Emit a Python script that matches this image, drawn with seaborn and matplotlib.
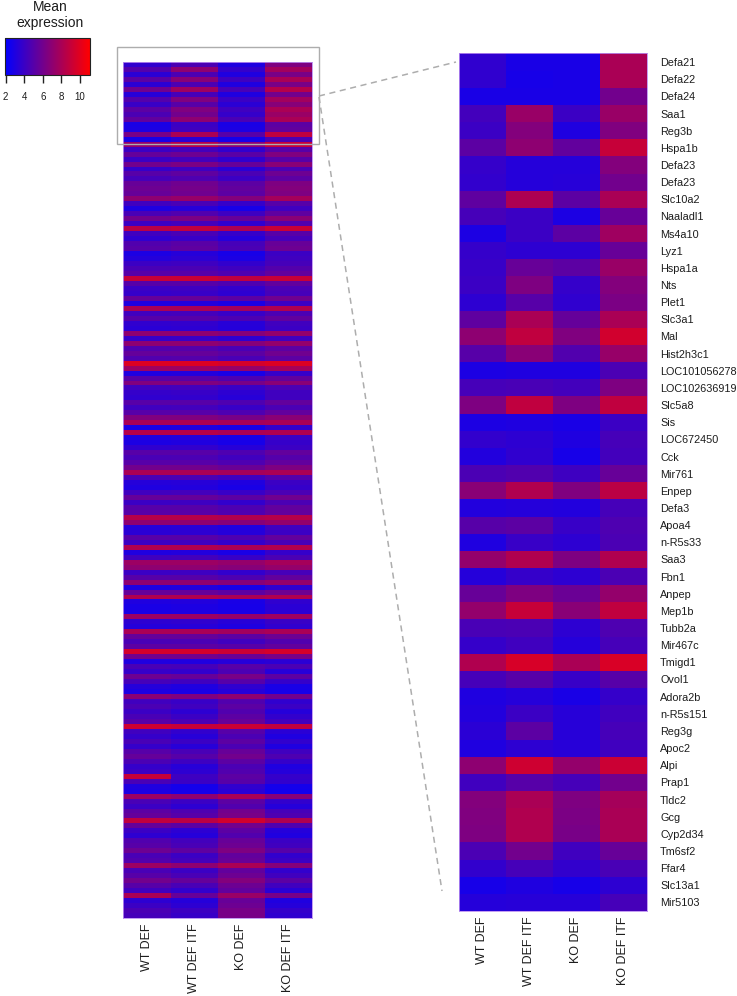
"""
Mean expression heatmap: all genes on the left, top 50 zoomed in on the right.
"""

import matplotlib
matplotlib.use("Agg")
import matplotlib.pyplot as plt
import pandas as pd
import seaborn as sns
from matplotlib.colors import LinearSegmentedColormap
from matplotlib.lines import Line2D
from matplotlib.patches import Rectangle

# ---------------------------------------------------------------------------
# Data
# ---------------------------------------------------------------------------
CONDITIONS = ["WT DEF", "WT DEF ITF", "KO DEF", "KO DEF ITF"]

GENES = [
    "Defa21", "Defa22", "Defa24", "Saa1", "Reg3b", "Hspa1b", "Defa23", "Defa23", "Slc10a2", "Naaladl1",
    "Ms4a10", "Lyz1", "Hspa1a", "Nts", "Plet1", "Slc3a1", "Mal", "Hist2h3c1", "LOC101056278", "LOC102636919",
    "Slc5a8", "Sis", "LOC672450", "Cck", "Mir761", "Enpep", "Defa3", "Apoa4", "n-R5s33", "Saa3",
    "Fbn1", "Anpep", "Mep1b", "Tubb2a", "Mir467c", "Tmigd1", "Ovol1", "Adora2b", "n-R5s151", "Reg3g",
    "Apoc2", "Alpi", "Prap1", "Tldc2", "Gcg", "Cyp2d34", "Tm6sf2", "Ffar4", "Slc13a1", "Mir5103",
]

# zoomed panel, one list per condition
TOP_WT = [
    3.6, 3.6, 2.8, 4.3, 4.0, 5.2, 3.8, 3.7, 5.3, 4.4,
    2.9, 3.8, 3.9, 4.0, 3.5, 5.3, 7.0, 5.0, 2.9, 4.4,
    6.4, 2.9, 3.7, 3.1, 4.6, 6.8, 3.1, 5.0, 3.0, 7.2,
    3.2, 5.6, 7.2, 4.5, 3.8, 8.2, 4.4, 3.0, 3.1, 3.4,
    3.0, 7.0, 4.2, 6.6, 6.5, 6.4, 4.6, 3.7, 2.7, 3.2,
]
TOP_WT_ITF = [
    2.8, 2.7, 2.8, 7.4, 6.6, 7.0, 3.2, 3.2, 8.1, 4.0,
    4.0, 3.5, 5.6, 6.4, 5.0, 8.0, 8.8, 6.8, 3.0, 4.5,
    8.8, 3.0, 3.5, 3.6, 4.8, 8.2, 3.2, 5.2, 3.9, 8.2,
    3.8, 6.4, 9.0, 4.6, 4.2, 9.6, 5.0, 3.2, 4.0, 5.2,
    3.5, 9.3, 5.0, 8.0, 8.2, 8.2, 6.0, 4.4, 3.0, 3.3,
]
TOP_KO = [
    2.8, 2.8, 2.8, 4.0, 3.0, 5.4, 3.2, 3.3, 5.2, 2.9,
    5.2, 3.5, 5.2, 3.8, 3.6, 5.5, 6.5, 4.8, 3.0, 4.3,
    6.4, 2.8, 3.0, 2.7, 4.1, 6.5, 3.1, 3.9, 3.5, 6.4,
    3.5, 5.7, 6.8, 3.5, 3.2, 8.0, 3.9, 2.8, 3.3, 3.3,
    3.3, 7.2, 4.4, 6.4, 6.3, 6.2, 4.2, 3.7, 2.7, 3.3,
]
TOP_KO_ITF = [
    8.0, 8.0, 6.0, 7.4, 6.5, 9.0, 6.6, 6.0, 8.0, 5.6,
    7.6, 5.6, 7.4, 6.6, 6.3, 8.0, 9.4, 7.3, 4.6, 6.4,
    8.8, 4.0, 4.4, 4.3, 5.6, 8.6, 4.4, 4.7, 4.6, 8.2,
    4.6, 7.2, 8.8, 4.7, 4.4, 9.7, 5.0, 3.8, 4.2, 4.4,
    4.2, 9.2, 6.0, 7.8, 8.0, 8.0, 5.6, 4.5, 3.5, 4.4,
]

# overview panel, rows read as bands of about 5 px
ALL_WT = [
    3.6, 4.9, 3.4, 5.2, 3.4, 5.9, 3.2, 4.9, 3.9, 5.2,
    4.6, 5.4, 2.8, 2.9, 6.2, 2.7, 7.2, 4.0, 5.5, 4.0,
    6.0, 3.8, 5.0, 4.4, 5.6, 5.8, 5.6, 7.0, 4.2, 3.0,
    4.5, 6.0, 4.0, 8.5, 4.2, 3.6, 4.8, 5.0, 2.9, 3.2,
    4.0, 4.5, 5.0, 9.0, 5.0, 4.0, 3.8, 5.5, 3.0, 8.0,
    4.2, 5.0, 3.6, 3.4, 7.0, 3.8, 7.0, 4.8, 5.5, 4.8,
    9.8, 7.5, 3.0, 5.0, 6.5, 4.2, 3.8, 3.6, 5.0, 4.2,
    5.0, 6.5, 8.0, 2.9, 8.4, 3.0, 2.9, 3.6, 5.0, 4.5,
    5.0, 6.0, 8.0, 4.5, 3.2, 3.0, 4.2, 5.5, 4.0, 5.0,
    5.0, 8.4, 7.0, 3.2, 3.4, 5.0, 4.0, 8.2, 3.0, 4.2,
    7.5, 7.0, 4.0, 5.0, 7.0, 3.0, 5.5, 8.2, 3.0, 2.8,
    2.8, 7.5, 3.5, 3.2, 8.0, 5.5, 4.5, 5.2, 9.5, 6.0,
    3.0, 4.5, 3.8, 5.8, 4.4, 3.2, 2.9, 6.8, 4.2, 4.6,
    4.0, 4.5, 5.0, 9.3, 4.2, 3.8, 4.5, 3.8, 5.0, 5.5,
    4.6, 3.8, 4.0, 9.0, 4.5, 3.0, 2.9, 7.5, 4.5, 4.0,
    5.2, 5.5, 8.8, 5.5, 4.0, 3.5, 4.8, 5.0, 5.8, 4.5,
    4.8, 7.5, 4.5, 5.0, 6.0, 5.0, 4.2, 8.0, 3.5, 4.0, 4.6, 4.4,
]
ALL_WT_ITF = [
    4.6, 7.0, 4.6, 6.8, 4.6, 7.6, 4.4, 6.5, 5.0, 6.5,
    6.0, 7.0, 4.0, 4.2, 8.0, 3.4, 8.4, 4.3, 5.8, 4.3,
    6.3, 4.1, 5.3, 4.7, 5.9, 6.1, 5.9, 7.3, 4.5, 3.3,
    4.8, 6.3, 4.3, 8.8, 4.5, 3.9, 5.1, 5.3, 3.2, 3.5,
    4.1, 4.6, 5.0, 9.1, 5.0, 4.1, 3.9, 5.6, 3.1, 8.0,
    4.3, 5.0, 3.7, 3.5, 7.0, 3.9, 7.0, 4.9, 5.5, 4.9,
    9.8, 7.5, 3.1, 5.0, 6.5, 4.3, 3.9, 3.7, 5.0, 4.3,
    5.0, 6.5, 8.0, 3.0, 8.4, 3.1, 3.0, 3.7, 5.0, 4.6,
    5.0, 6.0, 8.0, 4.6, 3.3, 3.1, 4.3, 5.5, 4.1, 5.0,
    5.0, 8.4, 7.0, 3.3, 3.5, 5.0, 4.1, 8.2, 3.1, 4.3,
    7.5, 7.0, 4.1, 5.0, 7.0, 3.1, 5.5, 8.2, 3.1, 2.9,
    2.9, 7.5, 3.6, 3.3, 8.0, 5.5, 4.6, 5.2, 9.5, 6.0,
    3.0, 4.4, 3.7, 5.6, 4.2, 3.0, 2.8, 6.5, 3.9, 4.2,
    3.5, 4.0, 4.5, 9.0, 3.7, 3.3, 4.0, 3.3, 4.5, 5.0,
    4.1, 3.3, 3.5, 4.1, 4.0, 2.6, 2.6, 7.0, 4.0, 3.5,
    4.7, 5.0, 8.6, 5.2, 3.5, 3.2, 4.3, 4.5, 5.3, 4.0,
    4.3, 7.0, 4.0, 4.5, 5.5, 4.5, 3.7, 5.6, 3.2, 3.5, 4.1, 3.9,
]
ALL_KO = [
    3.0, 3.8, 3.0, 4.2, 3.0, 4.5, 3.0, 4.0, 3.4, 4.2,
    3.8, 4.6, 2.8, 2.9, 5.0, 2.6, 6.8, 3.6, 5.1, 3.6,
    5.6, 3.4, 4.6, 4.0, 5.2, 5.4, 5.2, 6.6, 3.8, 2.7,
    4.1, 5.6, 3.6, 8.1, 3.8, 3.2, 4.4, 4.6, 2.7, 2.9,
    3.7, 4.2, 4.7, 8.7, 4.7, 3.7, 3.5, 5.2, 2.8, 7.7,
    3.9, 4.7, 3.3, 3.2, 6.7, 3.5, 6.7, 4.5, 5.2, 4.5,
    9.5, 7.2, 2.8, 4.7, 6.2, 3.9, 3.5, 3.3, 4.7, 3.9,
    4.7, 6.2, 7.8, 2.7, 8.1, 2.8, 2.7, 3.3, 4.7, 4.2,
    4.7, 5.7, 7.8, 4.2, 3.0, 2.8, 3.9, 5.2, 3.7, 4.7,
    4.7, 8.2, 6.7, 3.0, 3.2, 4.7, 3.7, 8.0, 2.8, 3.9,
    7.2, 6.7, 3.7, 4.7, 6.7, 2.8, 5.2, 8.0, 2.8, 2.7,
    2.7, 7.2, 3.3, 3.0, 7.7, 5.2, 4.2, 5.0, 9.2, 5.7,
    3.2, 5.0, 4.6, 6.2, 5.0, 3.6, 3.2, 7.0, 4.8, 5.2,
    4.8, 5.2, 5.6, 9.2, 5.0, 4.6, 5.2, 4.6, 5.6, 6.0,
    5.2, 4.6, 4.8, 5.2, 5.0, 3.6, 3.4, 8.0, 5.2, 4.8,
    6.0, 6.2, 9.4, 6.0, 5.2, 4.8, 5.6, 5.8, 6.4, 5.4,
    5.6, 8.0, 5.4, 5.8, 6.6, 5.8, 5.4, 7.4, 5.6, 5.8, 6.2, 6.2,
]
ALL_KO_ITF = [
    6.4, 7.7, 6.2, 8.0, 6.2, 8.4, 6.0, 7.7, 6.7, 8.0,
    7.4, 8.0, 5.2, 5.4, 8.8, 4.6, 9.0, 5.0, 6.5, 5.0,
    6.8, 4.6, 5.8, 5.2, 6.4, 6.6, 6.4, 7.8, 5.0, 4.2,
    5.3, 6.8, 4.8, 9.1, 5.0, 4.4, 5.6, 5.8, 4.0, 4.2,
    4.4, 4.9, 5.4, 9.0, 5.4, 4.6, 4.4, 5.9, 4.0, 8.2,
    4.6, 5.4, 4.2, 4.0, 7.2, 4.2, 7.2, 5.2, 5.9, 5.2,
    9.8, 7.8, 3.8, 5.4, 6.8, 4.6, 4.2, 4.2, 5.4, 4.6,
    5.4, 6.8, 8.0, 3.8, 8.2, 4.0, 3.8, 4.0, 5.4, 4.9,
    5.4, 6.4, 8.0, 4.9, 4.0, 3.8, 4.6, 5.9, 4.6, 5.4,
    5.4, 8.4, 7.2, 4.2, 4.0, 5.4, 4.4, 8.2, 3.8, 4.6,
    7.8, 7.2, 4.4, 5.4, 7.2, 3.6, 5.8, 8.2, 3.6, 3.4,
    3.4, 7.6, 3.9, 3.6, 8.0, 5.8, 4.8, 5.4, 9.5, 6.2,
    3.4, 4.6, 3.2, 5.2, 3.8, 2.8, 2.7, 6.0, 3.6, 4.0,
    3.2, 3.7, 4.2, 8.8, 3.4, 3.0, 3.7, 3.0, 4.2, 4.7,
    3.8, 3.0, 3.2, 3.8, 3.7, 2.6, 2.5, 6.7, 3.7, 3.2,
    4.4, 4.7, 8.2, 4.8, 3.2, 3.0, 4.0, 4.2, 5.0, 3.7,
    4.0, 6.7, 3.7, 4.2, 5.2, 4.2, 3.4, 6.2, 3.0, 3.2, 3.8, 3.6,
]

CBAR_TICKS = [2, 4, 6, 8, 10]

# ---------------------------------------------------------------------------
# Layout (pixels, y from the top)
# ---------------------------------------------------------------------------
WIDTH, HEIGHT = 737, 996
VMIN, VMAX = 1.87, 11.07
GREY = "#adadad"
TEXT = "#1c1c1c"
EDGE = "#b98cf0"


def axes_px(fig, left, top, right, bottom):
    return fig.add_axes([left / WIDTH, 1 - bottom / HEIGHT,
                         (right - left) / WIDTH, (bottom - top) / HEIGHT])


def fx(x):
    return x / WIDTH


def fy(y):
    return 1 - y / HEIGHT


def edge(ax):
    for spine in ax.spines.values():
        spine.set_visible(True)
        spine.set_edgecolor(EDGE)
        spine.set_linewidth(0.6)


sns.set_style("white")
plt.rcParams["font.family"] = ["Liberation Sans", "DejaVu Sans"]

cmap = LinearSegmentedColormap.from_list("blue_red", ["#0000ff", "#ff0000"])

fig = plt.figure(figsize=(WIDTH / 100, HEIGHT / 100), dpi=100, facecolor="white")

# ---------------------------------------------------------------------------
# Overview heatmap
# ---------------------------------------------------------------------------
df_all = pd.DataFrame(dict(zip(CONDITIONS, [ALL_WT, ALL_WT_ITF, ALL_KO, ALL_KO_ITF])))
ax_all = axes_px(fig, 123.5, 62, 311.5, 918)
sns.heatmap(df_all, ax=ax_all, cmap=cmap, vmin=VMIN, vmax=VMAX, cbar=False,
            xticklabels=CONDITIONS, yticklabels=False)
ax_all.set_ylabel("")
ax_all.tick_params(axis="x", length=0, pad=4, labelsize=9.0, labelcolor=TEXT, rotation=90)
edge(ax_all)

# ---------------------------------------------------------------------------
# Zoomed heatmap + colour key
# ---------------------------------------------------------------------------
df_top = pd.DataFrame(dict(zip(CONDITIONS, [TOP_WT, TOP_WT_ITF, TOP_KO, TOP_KO_ITF])))
ax_top = axes_px(fig, 458.5, 53.5, 647, 911)
cax = axes_px(fig, 4.5, 38, 90, 75)
sns.heatmap(df_top, ax=ax_top, cmap=cmap, vmin=VMIN, vmax=VMAX, cbar_ax=cax,
            cbar_kws={"orientation": "horizontal", "ticks": CBAR_TICKS},
            xticklabels=CONDITIONS, yticklabels=GENES)
ax_top.yaxis.tick_right()
ax_top.tick_params(axis="y", length=0, pad=9.4, labelsize=7.8, labelcolor=TEXT, rotation=0)
ax_top.tick_params(axis="x", length=0, pad=4, labelsize=9.0, labelcolor=TEXT, rotation=90)
edge(ax_top)

cbar = ax_top.collections[0].colorbar
cbar.outline.set_visible(True)
cbar.outline.set_edgecolor("#222222")
cbar.outline.set_linewidth(0.8)
cbar.ax.tick_params(axis="x", length=6, width=1.0, color="#222222", pad=6,
                    labelsize=7, labelcolor=TEXT, bottom=True)

fig.text(fx(50), fy(15), "Mean\nexpression", ha="center", va="center",
         fontsize=10, color=TEXT, linespacing=1.15)

# ---------------------------------------------------------------------------
# Selection box and connector lines
# ---------------------------------------------------------------------------
fig.add_artist(Rectangle((fx(116.5), fy(144.5)), fx(202), 97 / HEIGHT, fill=False,
                         edgecolor=GREY, linewidth=1.0, transform=fig.transFigure))
fig.add_artist(Line2D([fx(319), fx(456)], [fy(96), fy(62)], color=GREY, linewidth=1.1,
                      linestyle=(0, (4, 3)), transform=fig.transFigure))
fig.add_artist(Line2D([fx(319), fx(442)], [fy(97), fy(891)], color=GREY, linewidth=1.1,
                      linestyle=(0, (4, 3)), transform=fig.transFigure))

fig.savefig("out.png", dpi=100)
plt.close(fig)
